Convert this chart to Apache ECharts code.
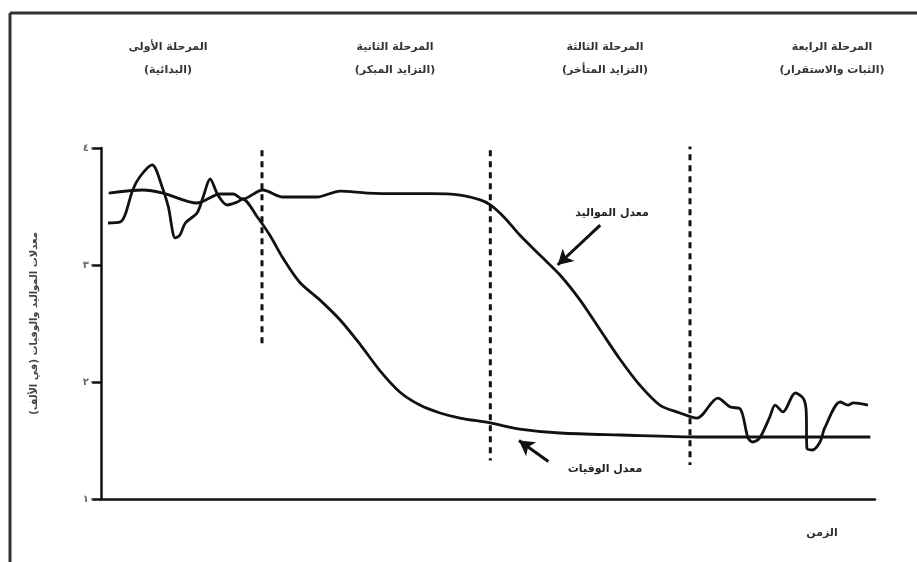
<!DOCTYPE html>
<html><head><meta charset="utf-8">
<script src="https://cdn.jsdelivr.net/npm/echarts@6/dist/echarts.min.js"></script>
<style>html,body{margin:0;padding:0;background:#fff}#c{width:917px;height:562px}</style>
</head><body><div id="c"></div>
<script>
// Data (x = time index 0..100, y = per thousand)
const yTicks = [10, 20, 30, 40];
const yTickLabels = ['١٠', '٢٠', '٣٠', '٤٠'];
const phaseTitles = ['المرحلة الأولى', 'المرحلة الثانية', 'المرحلة الثالثة', 'المرحلة الرابعة'];
const phaseSubtitles = ['(البدائية)', '(التزايد المبكر)', '(التزايد المتأخر)', '(الثبات والاستقرار)'];
const birthName = 'معدل المواليد';
const deathName = 'معدل الوفيات';
const yAxisName = 'معدلات المواليد والوفيات (في الألف)';
const xAxisName = 'الزمن';

const birthRate = [
  [1.0,36.15],[5.4,36.41],[8.0,36.15],[12.4,35.30],[15.4,36.07],[17.1,36.07],[18.3,35.64],
  [20.9,36.41],[23.5,35.81],[27.9,35.81],[30.9,36.32],[34.4,36.15],[38.6,36.1],[42.5,36.1],
  [46.4,35.98],[49.0,35.56],[50.3,35.13],[52.2,34.0],[54.1,32.56],[56.7,30.85],[59.3,29.15],
  [61.9,27.0],[64.5,24.44],[67.1,21.9],[69.6,19.74],[72.2,18.03],[74.8,17.35],[77.0,16.92],
  [79.7,18.63],[81.3,17.86],[82.6,17.69],[83.6,15.21],[84.2,14.87],[85.1,15.21],[86.4,17.01],
  [87.1,18.03],[88.1,17.44],[89.7,19.06],[90.7,18.63],[91.1,17.61],[91.2,14.36],[91.9,14.19],
  [92.9,14.87],[93.5,16.07],[95.5,18.29],[96.5,18.03],[97.2,18.21],[99.1,18.03]
];
const deathRate = [
  [0.9,33.59],[2.5,33.68],[3.1,34.27],[4.1,36.41],[5.0,37.52],[6.6,38.55],[7.9,36.67],
  [8.7,34.96],[9.6,32.31],[10.2,32.56],[10.9,33.59],[12.4,34.44],[13.2,35.81],[14.1,37.35],
  [15.1,35.98],[16.3,35.13],[17.6,35.38],[18.3,35.64],[20.2,34.1],[21.8,32.56],[23.5,30.6],
  [25.7,28.5],[28.3,27.0],[30.9,25.3],[33.5,23.2],[36.0,21.0],[38.6,19.15],[41.2,18.03],
  [43.8,17.35],[46.4,16.92],[50.3,16.5],[54.1,15.98],[59.3,15.64],[67.1,15.47],[77.4,15.3],
  [90.3,15.3],[99.4,15.3]
];
const phaseBoundaries = [
  [[20.8,39.8],[20.8,23.2]],
  [[50.3,39.8],[50.3,13.3]],
  [[76.1,40.4],[76.1,12.9]]
];
const arrows = [
  [[64.5,33.4],[59.0,30.0]],
  [[57.8,13.2],[54.0,15.0]]
];

const chart = echarts.init(document.getElementById('c'));
const AR = '"DejaVu Sans", sans-serif';
const series = [
  {type:'line', name: birthName, data: birthRate, showSymbol:false, smooth:0.3,
   lineStyle:{color:'#111', width:2.8}, z:3},
  {type:'line', name: deathName, data: deathRate, showSymbol:false, smooth:0.3,
   lineStyle:{color:'#111', width:2.8}, z:3}
];
phaseBoundaries.forEach(seg => series.push({
  type:'line', data: seg, showSymbol:false, silent:true,
  lineStyle:{color:'#111', width:3, type:[6,5]}, z:2
}));
series.push({
  type:'line', data: [], silent:true,
  markLine:{silent:true, symbol:['none','arrow'], symbolSize:[13,15], label:{show:false},
    lineStyle:{color:'#111', width:3, type:'solid'},
    data: arrows.map(a => [{coord:a[0]},{coord:a[1]}])}
});

const phaseX = [168, 395, 605, 832];
const graphics = [
  {type:'line', shape:{x1:10,y1:13,x2:917,y2:13}, style:{stroke:'#333', lineWidth:3}},
  {type:'line', shape:{x1:10,y1:13,x2:10,y2:562}, style:{stroke:'#333', lineWidth:3}}
];
phaseX.forEach((x,i) => {
  graphics.push({type:'text', x:x, y:47, style:{text:phaseTitles[i], font:'bold 11px '+AR, fill:'#333', textAlign:'center', textVerticalAlign:'middle'}});
  graphics.push({type:'text', x:x, y:70, style:{text:phaseSubtitles[i], font:'bold 11px '+AR, fill:'#333', textAlign:'center', textVerticalAlign:'middle'}});
});
graphics.push({type:'text', x:612, y:213, style:{text:birthName, font:'bold 11px '+AR, fill:'#222', textAlign:'center', textVerticalAlign:'middle'}});
graphics.push({type:'text', x:605, y:469, style:{text:deathName, font:'bold 11px '+AR, fill:'#222', textAlign:'center', textVerticalAlign:'middle'}});
graphics.push({type:'text', x:822, y:533, style:{text:xAxisName, font:'bold 11px '+AR, fill:'#333', textAlign:'center', textVerticalAlign:'middle'}});

chart.setOption({
  animation:false,
  backgroundColor:'#fff',
  grid:{left:101, right:42, top:148, bottom:63, containLabel:false},
  xAxis:{type:'value', min:0, max:100, axisLine:{show:true, lineStyle:{color:'#111', width:2.5}},
    axisTick:{show:false}, axisLabel:{show:false}, splitLine:{show:false}},
  yAxis:{type:'value', min:10, max:40, interval:10,
    name: yAxisName, nameLocation:'middle', nameGap:62, nameRotate:90,
    nameTextStyle:{fontFamily:AR, fontSize:10, fontWeight:'bold', color:'#444'},
    axisLine:{show:true, lineStyle:{color:'#111', width:2.5}},
    axisTick:{show:true, length:9, lineStyle:{color:'#111', width:2.5}},
    axisLabel:{margin:6, color:'#666', fontSize:10, fontFamily:AR, fontWeight:'bold',
      formatter: v => yTickLabels[yTicks.indexOf(v)] || ''},
    splitLine:{show:false}},
  series: series,
  graphic: graphics
});
</script></body></html>
